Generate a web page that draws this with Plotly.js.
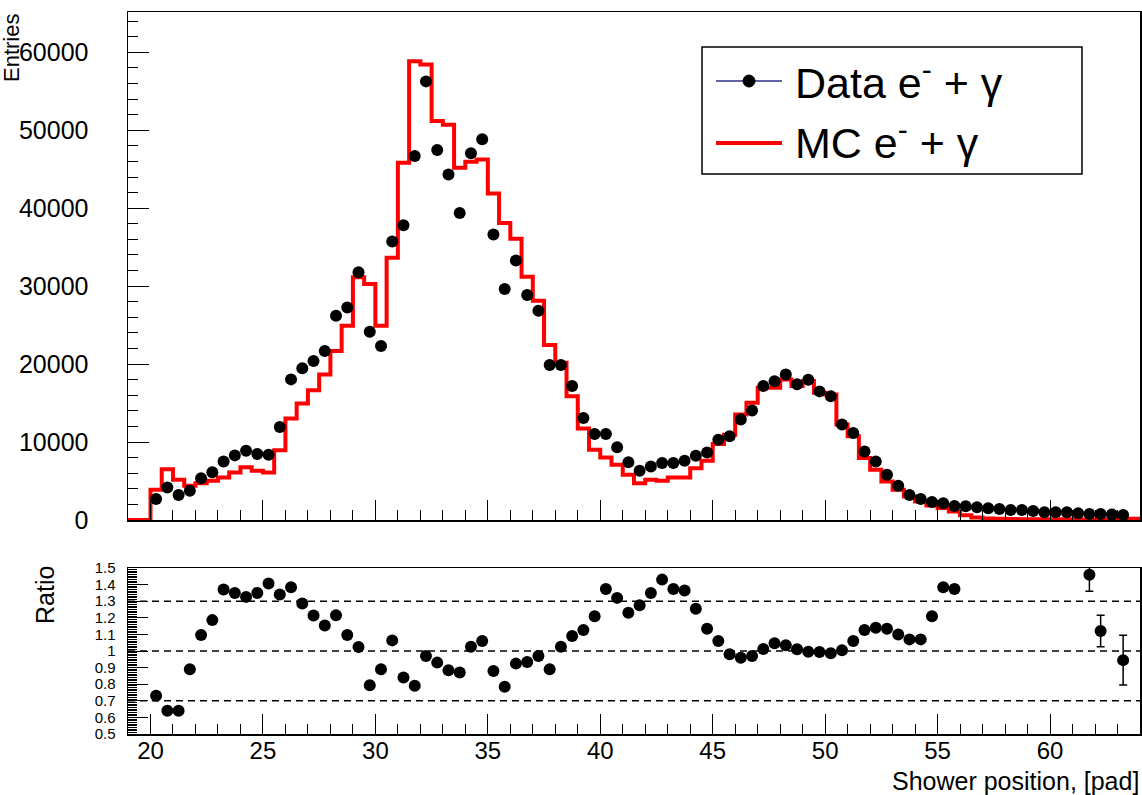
<!DOCTYPE html>
<html><head><meta charset="utf-8">
<script src="https://cdn.plot.ly/plotly-3.0.1.min.js"></script>
<style>html,body{margin:0;padding:0;background:#fff}#chart{width:1142px;height:795px}</style>
</head><body><div id="chart"></div>
<script>
// Bin edges of the histogram (shower position, pad)
const binEdges = [19,19.5,20,20.5,21,21.5,22,22.5,23,23.5,24,24.5,25,25.5,26,26.5,27,27.5,28,28.5,29,29.5,30,30.5,31,31.5,32,32.5,33,33.5,34,34.5,35,35.5,36,36.5,37,37.5,38,38.5,39,39.5,40,40.5,41,41.5,42,42.5,43,43.5,44,44.5,45,45.5,46,46.5,47,47.5,48,48.5,49,49.5,50,50.5,51,51.5,52,52.5,53,53.5,54,54.5,55,55.5,56,56.5,57,57.5,58,58.5,59,59.5,60,60.5,61,61.5,62,62.5,63,63.5,64];

// MC e- + gamma (entries per bin)
const mcEntries = [0,0,3870,6520,5150,4380,4720,5030,5450,6100,6770,6310,6100,8950,13030,14950,16660,18680,21690,24910,31140,30280,24910,33630,45830,58850,58420,51200,50690,45190,45960,46260,41880,38100,36080,31200,28130,22460,20180,15890,11730,9020,8030,7090,5800,4720,5150,5030,5450,5450,6650,7600,9740,10950,13530,15030,16960,16960,18040,17180,17820,16320,16110,12240,10730,7940,6440,4940,3870,3000,2360,1850,1550,1100,600,320,200,150,120,110,100,100,90,90,80,80,80,70,70,150];

// Data e- + gamma (entries per bin)
const dataEntries = [null,null,2700,4160,3220,3740,5360,6140,7510,8290,8890,8460,8370,11940,18040,19460,20400,21690,26200,27270,31780,24140,22330,35740,37800,46690,56270,47460,44330,39390,47040,48840,36640,29640,33290,28850,26840,19880,19880,17180,13100,11030,11030,9320,7420,6310,6870,7300,7300,7600,8250,8670,10310,10750,12900,14050,17200,17800,18680,17400,18000,16500,15890,12240,11160,8800,7510,5800,4400,3220,2700,2300,2150,1800,1750,1630,1500,1420,1290,1290,1160,980,980,980,850,770,770,700,640,null];

// Ratio Data / MC
const ratioValues = [null,null,0.73,0.64,0.64,0.89,1.096,1.186,1.37,1.35,1.326,1.35,1.406,1.34,1.384,1.286,1.214,1.154,1.216,1.096,1.024,0.794,0.89,1.064,0.84,0.79,0.97,0.93,0.884,0.87,1.026,1.06,0.88,0.785,0.924,0.934,0.97,0.89,1.026,1.09,1.126,1.21,1.374,1.32,1.23,1.276,1.35,1.43,1.374,1.364,1.254,1.134,1.06,0.98,0.96,0.97,1.012,1.046,1.034,1.01,0.996,0.994,0.986,1.004,1.06,1.126,1.14,1.134,1.10,1.07,1.07,1.21,1.384,1.374,null,null,null,null,null,null,null,null,null,null,null,1.46,1.12,null,0.945,null];
const ratioErrors = [0,0,0.01,0.01,0.01,0.01,0.01,0.01,0.01,0.01,0.01,0.01,0.01,0.01,0.01,0.01,0.01,0.01,0.01,0.01,0.01,0.01,0.01,0.01,0.01,0.01,0.01,0.01,0.01,0.01,0.01,0.01,0.01,0.01,0.01,0.01,0.01,0.01,0.01,0.01,0.01,0.01,0.01,0.01,0.01,0.01,0.01,0.01,0.01,0.01,0.01,0.01,0.01,0.01,0.01,0.01,0.01,0.01,0.01,0.01,0.01,0.01,0.01,0.01,0.01,0.01,0.01,0.01,0.01,0.01,0.01,0.02,0.02,0.02,0,0,0,0,0,0,0,0,0,0,0,0.1,0.095,0,0.15,0];

const refLines = [0.7, 1.0, 1.3];
const legendLabels = ['Data e<sup>-</sup> + γ', 'MC e<sup>-</sup> + γ'];

const binCenters = binEdges.slice(0, -1).map((e, i) => (e + binEdges[i + 1]) / 2);
const mcStepY = mcEntries.concat([mcEntries[mcEntries.length - 1]]);

const FONT = 'Liberation Sans, Arial, Helvetica, sans-serif';
const W = 1142, H = 795, ML = 128, MR = 2, MT = 12, MB = 61;
const PW = W - ML - MR, PH = H - MT - MB;
const fx = px => (px - ML) / PW;
const fy = py => (H - MB - py) / PH;

const traces = [
  {x: binEdges, y: mcStepY, type: 'scatter', mode: 'lines', line: {shape: 'hv', color: '#ff0000', width: 4},
   xaxis: 'x', yaxis: 'y', showlegend: false, hoverinfo: 'skip'},
  {x: binCenters, y: dataEntries, type: 'scatter', mode: 'markers', marker: {color: '#000', size: 12},
   xaxis: 'x', yaxis: 'y', showlegend: false},
  {x: binCenters, y: ratioValues, type: 'scatter', mode: 'markers', marker: {color: '#000', size: 12},
   error_y: {type: 'data', array: ratioErrors, visible: true, color: '#000', thickness: 1.5, width: 4},
   xaxis: 'x2', yaxis: 'y2', showlegend: false}
];

const axisBase = {showline: true, mirror: true, linecolor: '#000', linewidth: 1.5, showgrid: false, zeroline: false,
  ticks: 'inside', tickcolor: '#000', tickwidth: 1, tickfont: {family: FONT, size: 25, color: '#000'}};

const shapes = refLines.map(v => ({type: 'line', xref: 'x2', yref: 'y2', x0: binEdges[0], x1: binEdges[binEdges.length - 1], y0: v, y1: v,
  line: {color: '#000', width: 1.5, dash: '7px,5px'}}));
// legend box
shapes.push({type: 'rect', xref: 'paper', yref: 'paper', x0: fx(702), x1: fx(1082), y0: fy(47), y1: fy(174), line: {color: '#000', width: 1.5}, fillcolor: '#fff'});
shapes.push({type: 'line', xref: 'paper', yref: 'paper', x0: fx(716), x1: fx(782), y0: fy(81), y1: fy(81), line: {color: '#2e2e88', width: 1.5}});
shapes.push({type: 'circle', xref: 'paper', yref: 'paper', x0: fx(743), x1: fx(755), y0: fy(75), y1: fy(87), line: {color: '#000', width: 1}, fillcolor: '#000'});
shapes.push({type: 'line', xref: 'paper', yref: 'paper', x0: fx(716), x1: fx(782), y0: fy(143), y1: fy(143), line: {color: '#ff0000', width: 4}});

const annotations = [
  {text: 'Entries', xref: 'paper', yref: 'paper', x: fx(11), y: fy(12), xanchor: 'center', yanchor: 'top', textangle: -90, showarrow: false, font: {family: FONT, size: 22, color: '#000'}},
  {text: 'Ratio', xref: 'paper', yref: 'paper', x: fx(45), y: fy(595), xanchor: 'center', yanchor: 'middle', textangle: -90, showarrow: false, font: {family: FONT, size: 25, color: '#000'}},
  {text: 'Shower position, [pad]', xref: 'paper', yref: 'paper', x: fx(1141), y: fy(781), xanchor: 'right', yanchor: 'middle', showarrow: false, font: {family: FONT, size: 25, color: '#000'}},
  {text: legendLabels[0], xref: 'paper', yref: 'paper', x: fx(793), y: fy(80), xanchor: 'left', yanchor: 'middle', showarrow: false, font: {family: FONT, size: 43, color: '#000'}},
  {text: legendLabels[1], xref: 'paper', yref: 'paper', x: fx(793), y: fy(140), xanchor: 'left', yanchor: 'middle', showarrow: false, font: {family: FONT, size: 43, color: '#000'}}
];

const layout = {
  width: W, height: H, margin: {l: ML, r: MR, t: MT, b: MB},
  paper_bgcolor: '#fff', plot_bgcolor: '#fff', showlegend: false,
  font: {family: FONT, color: '#000'},
  xaxis: Object.assign({}, axisBase, {domain: [0, 1], anchor: 'y', range: [19, 64], dtick: 5, tick0: 0, ticklen: 20,
    showticklabels: false, minor: {dtick: 1, ticks: 'inside', ticklen: 10, tickcolor: '#000', tickwidth: 1}}),
  yaxis: Object.assign({}, axisBase, {domain: [fy(520), 1], anchor: 'x', range: [0, 65170], dtick: 10000, tick0: 0, ticklen: 21,
    tickformat: 'd', ticklabelstandoff: 33, minor: {dtick: 2000, ticks: 'inside', ticklen: 10, tickcolor: '#000', tickwidth: 1}}),
  xaxis2: Object.assign({}, axisBase, {domain: [0, 1], anchor: 'y2', range: [19, 64], dtick: 5, tick0: 0, ticklen: 20,
    tickfont: {family: FONT, size: 24, color: '#000'},
    ticklabelstandoff: -5, minor: {dtick: 1, ticks: 'inside', ticklen: 10, tickcolor: '#000', tickwidth: 1}}),
  yaxis2: Object.assign({}, axisBase, {domain: [0, fy(568)], anchor: 'x2', range: [0.5, 1.5], dtick: 0.1, tick0: 0.5, ticklen: 20,
    tickfont: {family: FONT, size: 15, color: '#000'},
    ticklabelstandoff: 8, minor: {dtick: 0.01, ticks: 'inside', ticklen: 9, tickcolor: '#000', tickwidth: 1}}),
  shapes: shapes,
  annotations: annotations
};

Plotly.newPlot('chart', traces, layout, {staticPlot: true, displayModeBar: false});
</script>
</body></html>
